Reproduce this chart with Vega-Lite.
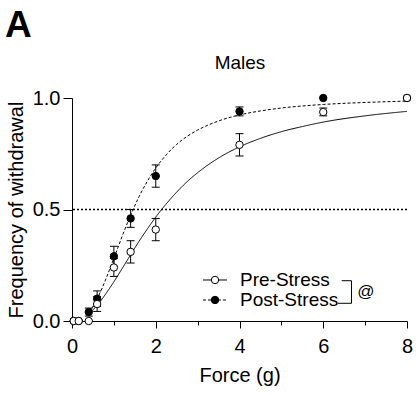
{
  "$schema": "https://vega.github.io/schema/vega-lite/v6.json",
  "width": 335,
  "height": 223,
  "autosize": {"type": "none"},
  "padding": {"left": 72, "top": 98, "right": 11, "bottom": 74},
  "background": "white",
  "data": {"values": [{}]},
  "config": {
    "view": {"stroke": null},
    "font": "Liberation Sans",
    "axis": {"domainColor": "black", "tickColor": "black", "labelColor": "black", "titleColor": "black", "labelFont": "Liberation Sans", "titleFont": "Liberation Sans", "titleFontWeight": "normal", "grid": false, "domainWidth": 1, "tickWidth": 1}
  },
  "datasets": {
    "points": [
      {"force": 0.04, "freq": 0, "lo": 0, "hi": 0, "group": "Post-Stress"},
      {"force": 0.16, "freq": 0, "lo": 0, "hi": 0, "group": "Post-Stress"},
      {"force": 0.4, "freq": 0.04, "lo": 0.022, "hi": 0.058, "group": "Post-Stress"},
      {"force": 0.6, "freq": 0.1, "lo": 0.065, "hi": 0.135, "group": "Post-Stress"},
      {"force": 1.0, "freq": 0.29, "lo": 0.245, "hi": 0.335, "group": "Post-Stress"},
      {"force": 1.4, "freq": 0.46, "lo": 0.42, "hi": 0.5, "group": "Post-Stress"},
      {"force": 2.0, "freq": 0.65, "lo": 0.6, "hi": 0.7, "group": "Post-Stress"},
      {"force": 4.0, "freq": 0.94, "lo": 0.92, "hi": 0.96, "group": "Post-Stress"},
      {"force": 6.0, "freq": 1.0, "lo": 1.0, "hi": 1.0, "group": "Post-Stress"},
      {"force": 8.0, "freq": 1.0, "lo": 1.0, "hi": 1.0, "group": "Post-Stress"},
      {"force": 0.04, "freq": 0, "lo": 0, "hi": 0, "group": "Pre-Stress"},
      {"force": 0.16, "freq": 0, "lo": 0, "hi": 0, "group": "Pre-Stress"},
      {"force": 0.4, "freq": 0, "lo": 0, "hi": 0, "group": "Pre-Stress"},
      {"force": 0.6, "freq": 0.076, "lo": 0.043, "hi": 0.109, "group": "Pre-Stress"},
      {"force": 1.0, "freq": 0.24, "lo": 0.2, "hi": 0.28, "group": "Pre-Stress"},
      {"force": 1.4, "freq": 0.31, "lo": 0.26, "hi": 0.36, "group": "Pre-Stress"},
      {"force": 2.0, "freq": 0.41, "lo": 0.36, "hi": 0.46, "group": "Pre-Stress"},
      {"force": 4.0, "freq": 0.79, "lo": 0.74, "hi": 0.84, "group": "Pre-Stress"},
      {"force": 6.0, "freq": 0.937, "lo": 0.92, "hi": 0.955, "group": "Pre-Stress"},
      {"force": 8.0, "freq": 1.0, "lo": 1.0, "hi": 1.0, "group": "Pre-Stress"}
    ],
    "fits": [
      {"force": 0.4, "fit": 0.032, "group": "Pre-Stress"},
      {"force": 0.5, "fit": 0.050, "group": "Pre-Stress"},
      {"force": 0.6, "fit": 0.070, "group": "Pre-Stress"},
      {"force": 0.7, "fit": 0.094, "group": "Pre-Stress"},
      {"force": 0.8, "fit": 0.120, "group": "Pre-Stress"},
      {"force": 1.0, "fit": 0.176, "group": "Pre-Stress"},
      {"force": 1.2, "fit": 0.236, "group": "Pre-Stress"},
      {"force": 1.4, "fit": 0.297, "group": "Pre-Stress"},
      {"force": 1.6, "fit": 0.357, "group": "Pre-Stress"},
      {"force": 1.8, "fit": 0.413, "group": "Pre-Stress"},
      {"force": 2.0, "fit": 0.466, "group": "Pre-Stress"},
      {"force": 2.25, "fit": 0.525, "group": "Pre-Stress"},
      {"force": 2.5, "fit": 0.578, "group": "Pre-Stress"},
      {"force": 2.75, "fit": 0.625, "group": "Pre-Stress"},
      {"force": 3.0, "fit": 0.665, "group": "Pre-Stress"},
      {"force": 3.5, "fit": 0.731, "group": "Pre-Stress"},
      {"force": 4.0, "fit": 0.781, "group": "Pre-Stress"},
      {"force": 4.5, "fit": 0.819, "group": "Pre-Stress"},
      {"force": 5.0, "fit": 0.849, "group": "Pre-Stress"},
      {"force": 5.5, "fit": 0.872, "group": "Pre-Stress"},
      {"force": 6.0, "fit": 0.892, "group": "Pre-Stress"},
      {"force": 7.0, "fit": 0.920, "group": "Pre-Stress"},
      {"force": 8.0, "fit": 0.940, "group": "Pre-Stress"},
      {"force": 0.4, "fit": 0.039, "group": "Post-Stress"},
      {"force": 0.5, "fit": 0.066, "group": "Post-Stress"},
      {"force": 0.6, "fit": 0.099, "group": "Post-Stress"},
      {"force": 0.7, "fit": 0.139, "group": "Post-Stress"},
      {"force": 0.8, "fit": 0.184, "group": "Post-Stress"},
      {"force": 0.9, "fit": 0.232, "group": "Post-Stress"},
      {"force": 1.0, "fit": 0.281, "group": "Post-Stress"},
      {"force": 1.1, "fit": 0.331, "group": "Post-Stress"},
      {"force": 1.2, "fit": 0.381, "group": "Post-Stress"},
      {"force": 1.4, "fit": 0.474, "group": "Post-Stress"},
      {"force": 1.6, "fit": 0.557, "group": "Post-Stress"},
      {"force": 1.8, "fit": 0.627, "group": "Post-Stress"},
      {"force": 2.0, "fit": 0.686, "group": "Post-Stress"},
      {"force": 2.25, "fit": 0.745, "group": "Post-Stress"},
      {"force": 2.5, "fit": 0.792, "group": "Post-Stress"},
      {"force": 2.75, "fit": 0.828, "group": "Post-Stress"},
      {"force": 3.0, "fit": 0.856, "group": "Post-Stress"},
      {"force": 3.5, "fit": 0.897, "group": "Post-Stress"},
      {"force": 4.0, "fit": 0.924, "group": "Post-Stress"},
      {"force": 4.5, "fit": 0.942, "group": "Post-Stress"},
      {"force": 5.0, "fit": 0.955, "group": "Post-Stress"},
      {"force": 6.0, "fit": 0.971, "group": "Post-Stress"},
      {"force": 7.0, "fit": 0.980, "group": "Post-Stress"},
      {"force": 8.0, "fit": 0.986, "group": "Post-Stress"}
    ]
  },
  "resolve": {"axis": {"x": "independent", "y": "independent"}},
  "layer": [
    {
      "mark": {"type": "rule", "color": "black", "strokeWidth": 1.5, "strokeDash": [2, 2]},
      "encoding": {"y": {"datum": 0.5, "type": "quantitative", "scale": {"domain": [0, 1], "nice": false}, "axis": null}}
    },
    {
      "data": {"name": "points"},
      "transform": [{"filter": "datum.hi > datum.lo"}],
      "mark": {"type": "rule", "color": "black", "strokeWidth": 1},
      "encoding": {
        "x": {"field": "force", "type": "quantitative", "scale": {"domain": [0, 8], "nice": false},
              "axis": {"orient": "bottom", "values": [1, 3, 5, 7], "labels": false, "domain": false, "tickSize": 4, "title": null}},
        "y": {"field": "lo", "type": "quantitative", "axis": null},
        "y2": {"field": "hi"}
      }
    },
    {
      "data": {"name": "points"},
      "transform": [{"filter": "datum.hi > datum.lo"}],
      "mark": {"type": "tick", "orient": "horizontal", "color": "black", "size": 8, "thickness": 1, "opacity": 1},
      "encoding": {
        "x": {"field": "force", "type": "quantitative", "axis": null},
        "y": {"field": "lo", "type": "quantitative", "axis": null}
      }
    },
    {
      "data": {"name": "points"},
      "transform": [{"filter": "datum.hi > datum.lo"}],
      "mark": {"type": "tick", "orient": "horizontal", "color": "black", "size": 8, "thickness": 1, "opacity": 1},
      "encoding": {
        "x": {"field": "force", "type": "quantitative", "axis": null},
        "y": {"field": "hi", "type": "quantitative", "axis": null}
      }
    },
    {
      "data": {"name": "fits"},
      "mark": {"type": "line", "color": "black", "strokeWidth": 1, "interpolate": "monotone"},
      "encoding": {
        "x": {"field": "force", "type": "quantitative",
              "axis": {"orient": "top", "domain": false, "ticks": false, "labels": false, "title": "Males", "titleFontSize": 19, "titleBaseline": "alphabetic", "titleX": 167.5, "titleY": -30}},
        "y": {"field": "fit", "type": "quantitative", "axis": null},
        "strokeDash": {"field": "group", "type": "nominal", "scale": {"domain": ["Pre-Stress", "Post-Stress"], "range": [[1, 0], [3, 2]]}, "legend": null}
      }
    },
    {
      "data": {"name": "points"},
      "mark": {"type": "point", "shape": "circle", "filled": true, "stroke": "black", "strokeWidth": 1, "size": 55, "opacity": 1},
      "encoding": {
        "x": {"field": "force", "type": "quantitative",
              "axis": {"orient": "bottom", "values": [0, 2, 4, 6, 8], "tickSize": 7, "labelPadding": 8, "labelFontSize": 20, "labelFlush": false,
                       "title": "Force (g)", "titleFontSize": 20, "titleBaseline": "alphabetic", "titleX": 167.5, "titleY": 60}},
        "y": {"field": "freq", "type": "quantitative",
              "axis": {"orient": "left", "values": [0, 0.5, 1], "format": ".1f", "tickSize": 9, "labelPadding": 3, "labelFontSize": 20, "labelFlush": false,
                       "title": "Frequency of withdrawal", "titleFontSize": 20, "titleBaseline": "alphabetic", "titleAngle": -90, "titleX": -50, "titleY": 111.5}},
        "fill": {"field": "group", "type": "nominal", "scale": {"domain": ["Pre-Stress", "Post-Stress"], "range": ["white", "black"]}, "legend": null}
      }
    },
    {
      "mark": {"type": "rule", "color": "black", "strokeWidth": 1},
      "encoding": {
        "x": {"datum": 3.128, "type": "quantitative", "axis": null},
        "x2": {"datum": 3.701},
        "y": {"datum": 0.1839, "type": "quantitative", "axis": null}
      }
    },
    {
      "mark": {"type": "rule", "color": "black", "strokeWidth": 1, "strokeDash": [3, 2]},
      "encoding": {
        "x": {"datum": 3.128, "type": "quantitative", "axis": null},
        "x2": {"datum": 3.701},
        "y": {"datum": 0.0942, "type": "quantitative", "axis": null}
      }
    },
    {
      "mark": {"type": "point", "shape": "circle", "filled": true, "fill": "white", "stroke": "black", "strokeWidth": 1, "size": 55, "opacity": 1},
      "encoding": {
        "x": {"datum": 3.415, "type": "quantitative", "axis": null},
        "y": {"datum": 0.1839, "type": "quantitative", "axis": null}
      }
    },
    {
      "mark": {"type": "point", "shape": "circle", "filled": true, "fill": "black", "stroke": "black", "strokeWidth": 1, "size": 55, "opacity": 1},
      "encoding": {
        "x": {"datum": 3.415, "type": "quantitative", "axis": null},
        "y": {"datum": 0.0942, "type": "quantitative", "axis": null}
      }
    },
    {
      "mark": {"type": "text", "text": "Pre-Stress", "font": "Liberation Sans", "fontSize": 19, "color": "black", "align": "left", "baseline": "middle"},
      "encoding": {
        "x": {"datum": 4.012, "type": "quantitative", "axis": null},
        "y": {"datum": 0.1839, "type": "quantitative", "axis": null}
      }
    },
    {
      "mark": {"type": "text", "text": "Post-Stress", "font": "Liberation Sans", "fontSize": 19, "color": "black", "align": "left", "baseline": "middle"},
      "encoding": {
        "x": {"datum": 4.012, "type": "quantitative", "axis": null},
        "y": {"datum": 0.0942, "type": "quantitative", "axis": null}
      }
    },
    {
      "mark": {"type": "rule", "color": "black", "strokeWidth": 1},
      "encoding": {
        "x": {"datum": 6.675, "type": "quantitative", "axis": null},
        "y": {"datum": 0.0794, "type": "quantitative", "axis": null},
        "y2": {"datum": 0.1807}
      }
    },
    {
      "mark": {"type": "rule", "color": "black", "strokeWidth": 1},
      "encoding": {
        "x": {"datum": 6.44, "type": "quantitative", "axis": null},
        "x2": {"datum": 6.675},
        "y": {"datum": 0.1807, "type": "quantitative", "axis": null}
      }
    },
    {
      "mark": {"type": "rule", "color": "black", "strokeWidth": 1},
      "encoding": {
        "x": {"datum": 6.35, "type": "quantitative", "axis": null},
        "x2": {"datum": 6.675},
        "y": {"datum": 0.0794, "type": "quantitative", "axis": null}
      }
    },
    {
      "mark": {"type": "text", "text": "@", "font": "Liberation Sans", "fontSize": 17, "color": "black", "align": "center", "baseline": "middle"},
      "encoding": {
        "x": {"datum": 7.02, "type": "quantitative", "axis": null},
        "y": {"datum": 0.132, "type": "quantitative", "axis": null}
      }
    },
    {
      "mark": {"type": "text", "text": "A", "font": "Liberation Sans", "fontSize": 37, "fontWeight": "bold", "color": "black", "align": "left", "baseline": "alphabetic"},
      "encoding": {
        "x": {"datum": -1.6, "type": "quantitative", "axis": null},
        "y": {"datum": 1.2735, "type": "quantitative", "axis": null}
      }
    }
  ]
}
